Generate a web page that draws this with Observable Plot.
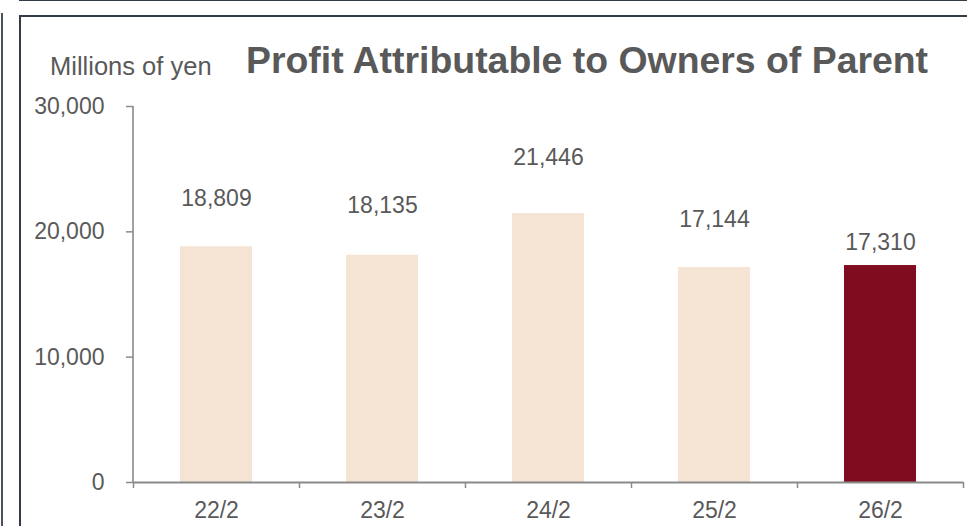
<!DOCTYPE html>
<html>
<head>
<meta charset="utf-8">
<script src="https://cdn.jsdelivr.net/npm/d3@7"></script>
<script src="https://cdn.jsdelivr.net/npm/@observablehq/plot@0.6"></script>
<style>
  html, body { margin: 0; padding: 0; background: #fff; }
  #wrap { position: relative; width: 967px; height: 526px; overflow: hidden; background: #fff;
          font-family: "Liberation Sans", Arial, sans-serif; color: #595959; }
  .line { position: absolute; background: #323a45; }
  #header { position: relative; height: 85px; }
  #unit { position: absolute; left: 50px; top: 54px; font-size: 25.5px; line-height: 25.5px; white-space: nowrap; }
  #title { position: absolute; left: 246px; top: 42px; font-size: 37.4px; line-height: 37.4px; font-weight: bold; white-space: nowrap; }
</style>
</head>
<body>
<div id="wrap">
  <div class="line" style="left:19px;top:0;right:0;height:1px;"></div>
  <div class="line" style="left:1px;top:13px;width:2px;bottom:0;background:#4a525c;"></div>
  <div class="line" style="left:19px;top:15px;right:0;height:1.5px;"></div>
  <div class="line" style="left:19px;top:15px;width:1.5px;bottom:0;"></div>
  <div id="header">
    <span id="unit">Millions of yen</span>
    <span id="title">Profit Attributable to Owners of Parent</span>
  </div>
  <div id="chart"></div>
</div>
<script>
// ---- data ----
const categories = ["22/2", "23/2", "24/2", "25/2", "26/2"];
const values = [18809, 18135, 21446, 17144, 17310];
const yTicks = [0, 10000, 20000, 30000];
const currentPeriod = "26/2";

// ---- styles ----
const barColor = "#F5E3D3";
const currentColor = "#7F0C1F";
const textColor = "#595959";
const axisColor = "#8a8a8a";
const labelDy = [-48, -50, -56, -48, -23];

const data = categories.map((c, i) => ({ period: c, value: values[i] }));

const width = 967, height = 441;
const marginLeft = 133, marginRight = 4, marginTop = 21, marginBottom = 44;
const halfStep = (width - marginLeft - marginRight) / categories.length / 2;

const labelMarks = data.map((d, i) =>
  Plot.text([d], {
    x: "period", y: "value", text: dd => d3.format(",")(dd.value),
    dy: labelDy[i], fill: textColor, fontSize: 23, lineAnchor: "middle", textAnchor: "middle"
  })
);

// vertical axis line along the left edge of the plot frame
const yAxisLine = (index, scales, values, dims) => {
  const l = document.createElementNS("http://www.w3.org/2000/svg", "line");
  l.setAttribute("x1", dims.marginLeft);
  l.setAttribute("x2", dims.marginLeft);
  l.setAttribute("y1", dims.marginTop);
  l.setAttribute("y2", dims.height - dims.marginBottom);
  l.setAttribute("stroke", axisColor);
  l.setAttribute("stroke-width", 1.6);
  return l;
};

const chart = Plot.plot({
  width, height, marginLeft, marginRight, marginTop, marginBottom,
  style: { fontFamily: '"Liberation Sans", Arial, sans-serif', fontSize: "23px", color: textColor, background: "transparent", overflow: "visible" },
  x: { domain: categories, paddingInner: 0.566, paddingOuter: 0.283, label: null },
  y: { domain: [0, 30000], label: null },
  marks: [
    Plot.barY(data, { x: "period", y: "value", fill: d => d.period === currentPeriod ? currentColor : barColor }),
    yAxisLine,
    Plot.ruleY([0], { stroke: axisColor, strokeWidth: 2 }),
    Plot.axisY({ ticks: yTicks, tickSize: 7, tickPadding: 22, tickFormat: d3.format(","), stroke: axisColor, strokeWidth: 1.5, fill: textColor, label: null, fontSize: 23 }),
    Plot.axisX({ ticks: categories, tickSize: 0, tickPadding: 19, fill: textColor, label: null, fontSize: 23 }),
    Plot.axisX({ ticks: categories, tickSize: 6, tickFormat: () => "", dx: -halfStep, stroke: axisColor, strokeWidth: 1.5, label: null }),
    Plot.axisX({ ticks: [categories[categories.length - 1]], tickSize: 6, tickFormat: () => "", dx: halfStep, stroke: axisColor, strokeWidth: 1.5, label: null }),
    ...labelMarks
  ]
});
document.getElementById("chart").appendChild(chart);
</script>
</body>
</html>
